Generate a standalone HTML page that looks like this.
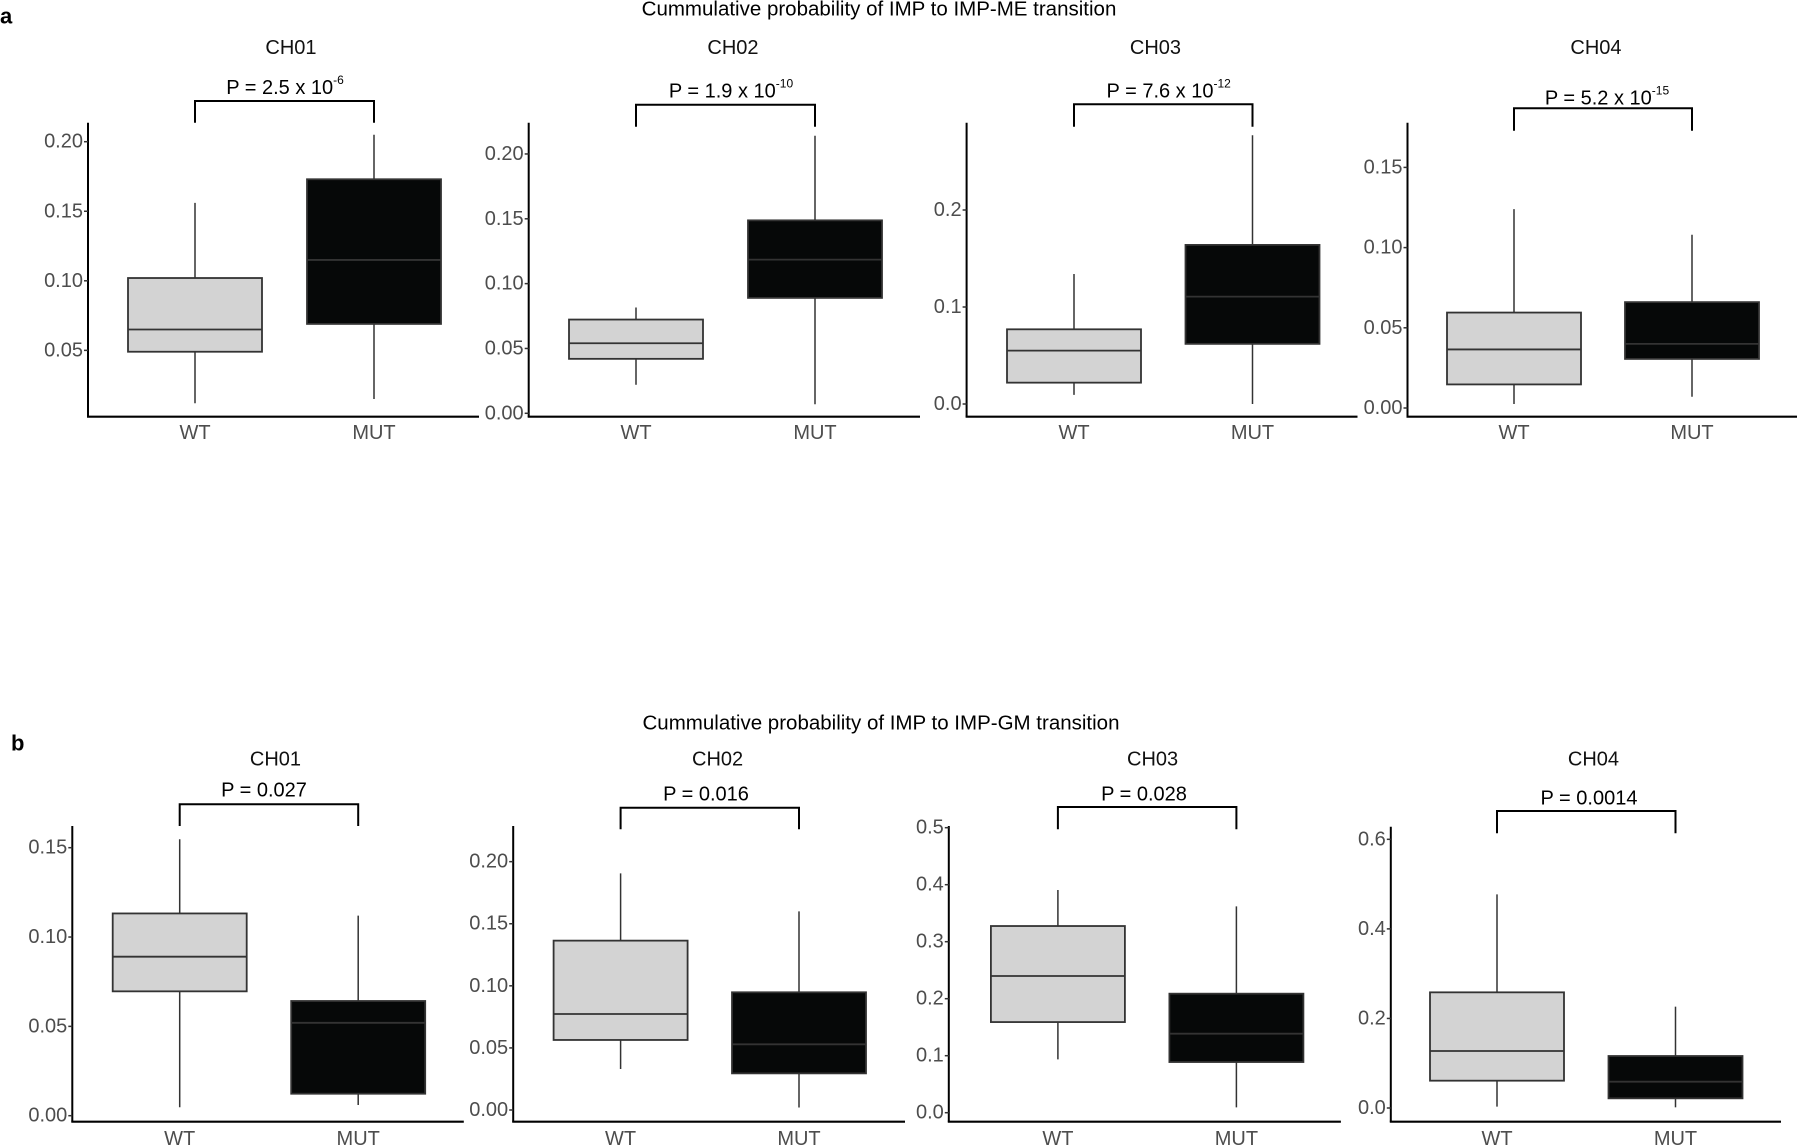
<!DOCTYPE html>
<html><head><meta charset="utf-8"><style>
html,body{margin:0;padding:0;background:#fff;}
svg{display:block;font-family:"Liberation Sans",Arial,sans-serif;}
</style></head><body>
<svg id="fig" width="1800" height="1146" viewBox="0 0 1800 1146" xmlns="http://www.w3.org/2000/svg">
<text x="0" y="16" font-size="22" font-weight="bold" dominant-baseline="central">a</text>
<text x="879" y="9" font-size="20.5" text-anchor="middle" dominant-baseline="central">Cummulative probability of IMP to IMP-ME transition</text>
<text x="11" y="743" font-size="22" font-weight="bold" dominant-baseline="central">b</text>
<text x="881" y="723" font-size="20.5" text-anchor="middle" dominant-baseline="central">Cummulative probability of IMP to IMP-GM transition</text>
<g id="charts"></g>
</svg>
<script>
// ---- data: [min, q1, median, q3, max] ----
const categories = ["WT", "MUT"];
const chartTitles = ["CH01", "CH02", "CH03", "CH04"];
const aCH01 = [[0.012,0.049,0.065,0.102,0.156],[0.015,0.069,0.115,0.173,0.205]];
const aCH02 = [[0.022,0.042,0.054,0.0723,0.0816],[0.007,0.089,0.1185,0.1488,0.214]];
const aCH03 = [[0.0094,0.022,0.055,0.077,0.134],[0.0,0.062,0.1107,0.164,0.277]];
const aCH04 = [[0.0025,0.0147,0.0365,0.0595,0.124],[0.007,0.0306,0.040,0.066,0.108]];
const bCH01 = [[0.0047,0.0696,0.089,0.1132,0.1547],[0.006,0.0123,0.052,0.0642,0.112]];
const bCH02 = [[0.033,0.0564,0.0773,0.1364,0.1906],[0.002,0.0295,0.0529,0.0948,0.16]];
const bCH03 = [[0.0936,0.159,0.2398,0.3275,0.3906],[0.0094,0.0889,0.1386,0.2088,0.362]];
const bCH04 = [[0.003,0.061,0.1273,0.2583,0.477],[0.0015,0.0216,0.0588,0.1161,0.2263]];
const ticksA1 = [0.05,0.10,0.15,0.20]; const tickLabelsA1 = ["0.05","0.10","0.15","0.20"];
const ticksA2 = [0,0.05,0.10,0.15,0.20]; const tickLabelsA2 = ["0.00","0.05","0.10","0.15","0.20"];
const ticksA3 = [0,0.1,0.2]; const tickLabelsA3 = ["0.0","0.1","0.2"];
const ticksA4 = [0,0.05,0.10,0.15]; const tickLabelsA4 = ["0.00","0.05","0.10","0.15"];
const ticksB1 = [0,0.05,0.10,0.15]; const tickLabelsB1 = ["0.00","0.05","0.10","0.15"];
const ticksB2 = [0,0.05,0.10,0.15,0.20]; const tickLabelsB2 = ["0.00","0.05","0.10","0.15","0.20"];
const ticksB3 = [0,0.1,0.2,0.3,0.4,0.5]; const tickLabelsB3 = ["0.0","0.1","0.2","0.3","0.4","0.5"];
const ticksB4 = [0,0.2,0.4,0.6]; const tickLabelsB4 = ["0.0","0.2","0.4","0.6"];
const pBase = ["2.5 x 10","1.9 x 10","7.6 x 10","5.2 x 10","0.027","0.016","0.028","0.0014"];
const pExp = ["-6","-10","-12","-15","","","",""];

// ---- layout (pixels) ----
const layout = [
 {ax:88,xEnd:479,top:122.7,bot:416.7,y0:419.9,k:1391,xw:195,xm:374,tx:291,ty:48,px:285,py:88,bt:101,bb:122.7,ly:433},
 {ax:528.7,xEnd:920,top:122.7,bot:416.7,y0:413.3,k:1296.7,xw:636,xm:815,tx:733,ty:48,px:731,py:91.7,bt:104.7,bb:126.7,ly:433},
 {ax:966.6,xEnd:1357.5,top:122.7,bot:416.7,y0:404,k:970,xw:1074,xm:1252.5,tx:1155.5,ty:48,px:1168.7,py:91.7,bt:104.3,bb:126.7,ly:433},
 {ax:1407.5,xEnd:1797,top:122.7,bot:416.7,y0:408,k:1604,xw:1514,xm:1692,tx:1596,ty:48,px:1607,py:98.3,bt:108.3,bb:130.7,ly:433},
 {ax:72.3,xEnd:463.8,top:826,bot:1121.7,y0:1115.7,k:1786.7,xw:179.7,xm:358.2,tx:275.5,ty:759.3,px:264,py:790.7,bt:804.3,bb:826,ly:1139},
 {ax:513.2,xEnd:905,top:826,bot:1121.7,y0:1110,k:1241.7,xw:620.6,xm:799,tx:717.6,ty:759.3,px:706,py:794.3,bt:807.7,bb:829.3,ly:1139},
 {ax:948.8,xEnd:1340.9,top:826,bot:1121.7,y0:1112.7,k:570,xw:1057.9,xm:1236.4,tx:1152.6,ty:759.3,px:1144,py:794.3,bt:807,bb:829.3,ly:1139},
 {ax:1390.8,xEnd:1781,top:826.7,bot:1121.7,y0:1108,k:447.8,xw:1497,xm:1675.5,tx:1593.5,ty:759.3,px:1589,py:798.3,bt:811,bb:833.3,ly:1139}
];
const allData = [aCH01,aCH02,aCH03,aCH04,bCH01,bCH02,bCH03,bCH04];
const allTicks = [ticksA1,ticksA2,ticksA3,ticksA4,ticksB1,ticksB2,ticksB3,ticksB4];
const allTickLabels = [tickLabelsA1,tickLabelsA2,tickLabelsA3,tickLabelsA4,tickLabelsB1,tickLabelsB2,tickLabelsB3,tickLabelsB4];
const fills = ["#d3d3d3","#060808"];
const BW = 134;
const NS = "http://www.w3.org/2000/svg";
const root = document.getElementById("charts");
function mk(tag, attrs, parent){ const e=document.createElementNS(NS,tag); for(const k in attrs) e.setAttribute(k,attrs[k]); (parent||root).appendChild(e); return e; }

allData.forEach((d, i) => {
  const L = layout[i];
  const y = v => L.y0 - v * L.k;
  const g = mk("g", {});
  
  
  const t = mk("text", {x:L.tx, y:L.ty, "font-size":20, "text-anchor":"middle", "dominant-baseline":"central", fill:"#111"}, g);
  t.textContent = chartTitles[i % 4];
  
  
  const pt = mk("text", {x:L.px, y:L.py, "font-size":20, "text-anchor":"middle", "dominant-baseline":"central", fill:"#000"}, g);
  
  
  pt.appendChild(document.createTextNode("P = " + pBase[i]));
  if (pExp[i]) { const s = mk("tspan", {"font-size":12, dy:-8}, pt); s.textContent = pExp[i]; }
  const br = mk("path", {d:`M${L.xw},${L.bb}V${L.bt}H${L.xm}V${L.bb}`, fill:"none", stroke:"#000", "stroke-width":2}, g);
  
  
  const ya = mk("line", {x1:L.ax, y1:L.top, x2:L.ax, y2:L.bot, stroke:"#000", "stroke-width":2}, g);
  
  
  const xa = mk("line", {x1:L.ax-1, y1:L.bot, x2:L.xEnd, y2:L.bot, stroke:"#000", "stroke-width":2.2}, g);
  
  
  allTicks[i].forEach((tv, j) => {
    const ty = y(tv);
    const tk = mk("line", {x1:L.ax-4, y1:ty, x2:L.ax, y2:ty, stroke:"#333", "stroke-width":1.5}, g);
    
    
    const tl = mk("text", {x:L.ax-5, y:ty, "font-size":20, "text-anchor":"end", "dominant-baseline":"central", fill:"#4d4d4d"}, g);
    tl.textContent = allTickLabels[i][j];
    
    
  });
  d.forEach((s, c) => {
    const cx = c === 0 ? L.xw : L.xm;
    const w = mk("line", {x1:cx, y1:y(s[0]), x2:cx, y2:y(s[4]), stroke:"#333", "stroke-width":1.5}, g);
    
    
    const r = mk("rect", {x:cx-BW/2, y:y(s[3]), width:BW, height:y(s[1])-y(s[3]), fill:fills[c], stroke:"#333", "stroke-width":1.8}, g);
    
    
    const m = mk("line", {x1:cx-BW/2, y1:y(s[2]), x2:cx+BW/2, y2:y(s[2]), stroke:"#333", "stroke-width":1.8}, g);
    
    
    const xl = mk("text", {x:cx, y:L.ly, "font-size":20, "text-anchor":"middle", "dominant-baseline":"central", fill:"#4d4d4d"}, g);
    xl.textContent = categories[c];
    
    
  });
});
</script>
</body></html>
